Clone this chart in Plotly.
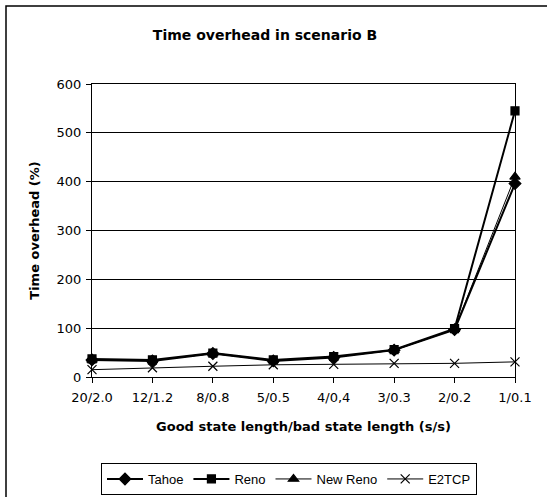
import plotly.graph_objects as go

categories = ["20/2.0", "12/1.2", "8/0.8", "5/0.5", "4/0,4", "3/0.3", "2/0.2", "1/0.1"]
tahoe = [35, 33, 48, 33, 40, 55, 97, 396]
reno = [37, 35, 49, 35, 42, 56, 99, 545]
newreno = [35, 34, 48, 34, 41, 55, 98, 410]
e2tcp = [15, 19, 22, 25, 26, 28, 28, 31]

FONT = "Liberation Sans, Arial, sans-serif"
WIDE = "DejaVu Sans, sans-serif"
xs = list(range(len(categories)))

W, H = 547, 497
L, R, T, B = 92, 515, 84, 377
PW, PH = R - L, B - T

fig = go.Figure()
series = [
    ("Tahoe", tahoe, "diamond", 9, 2),
    ("Reno", reno, "square", 8, 2),
    ("New Reno", newreno, "triangle-up", 9, 1),
    ("E2TCP", e2tcp, "x-thin", 9, 1),
]
for name, ys, sym, size, w in series:
    fig.add_trace(go.Scatter(
        x=xs, y=ys, name=name, mode="lines+markers",
        line=dict(color="black", width=w),
        marker=dict(symbol=sym, size=size, color="black",
                    line=dict(color="black", width=1.2)),
        cliponaxis=False,
    ))

fig.update_layout(
    width=W, height=H,
    margin=dict(l=L, r=W - R, t=T, b=H - B, autoexpand=False),
    paper_bgcolor="white", plot_bgcolor="white",
    font=dict(family=WIDE, size=13, color="black"),
    title=dict(text="<b>Time overhead in scenario B</b>", x=265 / W, xanchor="center",
               y=1 - 35 / H, yanchor="middle", font=dict(size=14, family=WIDE)),
    showlegend=True,
    legend=dict(orientation="h", xref="container", x=289 / W, xanchor="center",
                yref="container", y=1 - 463 / H, yanchor="top",
                bordercolor="black", borderwidth=1, font=dict(size=13, family=FONT),
                itemwidth=36, tracegroupgap=0),
    shapes=[dict(type="rect", xref="paper", yref="paper",
                 x0=-(L - 6) / PW, x1=1 + 40 / PW, y0=-(H - B + 10) / PH, y1=1 + (T - 6) / PH,
                 line=dict(color="black", width=1.5))],
)
fig.update_xaxes(
    range=[0, 7], tickmode="array", tickvals=xs, ticktext=categories,
    showgrid=False, showline=True, linecolor="black", mirror=True,
    ticks="outside", ticklen=5, tickcolor="black", ticklabelstandoff=3,
    tickfont=dict(size=13, family=WIDE),
    title=dict(text="<b>Good state length/bad state length (s/s)</b>", standoff=18,
               font=dict(size=13, family=WIDE)),
    zeroline=False, automargin=False,
)
fig.update_yaxes(
    range=[0, 600], dtick=100, showgrid=True, gridcolor="black", gridwidth=1,
    showline=True, linecolor="black", mirror=True,
    ticks="outside", ticklen=5, tickcolor="black", ticklabelstandoff=2,
    tickfont=dict(size=13, family=WIDE),
    title=dict(text="<b>Time overhead (%)</b>", standoff=14,
               font=dict(size=13, family=WIDE)),
    zeroline=False, automargin=False,
)

fig.write_html("out.html")
